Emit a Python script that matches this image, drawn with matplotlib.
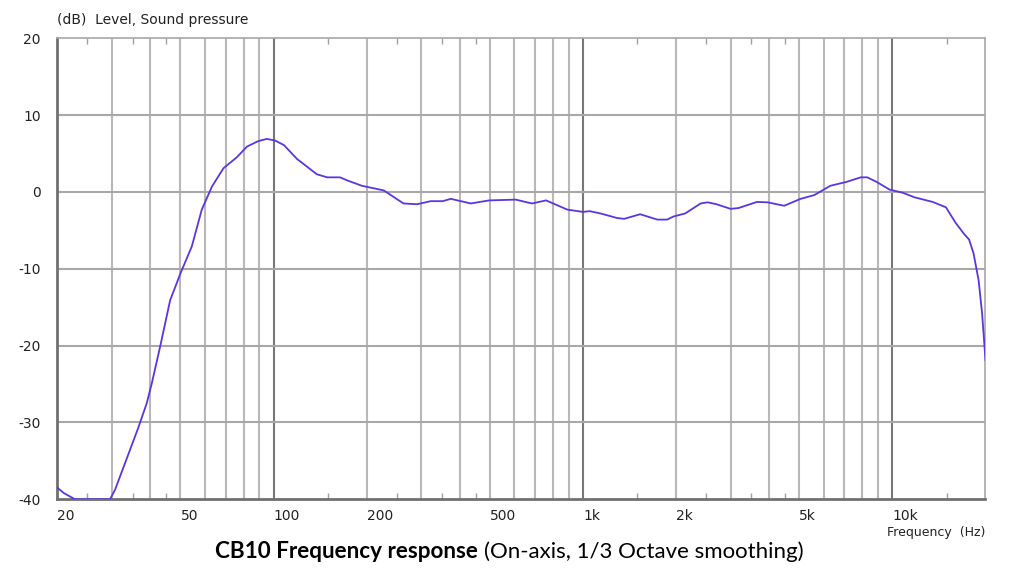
import matplotlib
matplotlib.use("Agg")
import matplotlib.pyplot as plt

plt.rcParams["axes.unicode_minus"] = False

# on-axis response (Hz, dB)
freq = [20, 21, 22.8, 26, 29.6, 30.7, 33.1, 36.6, 38.9, 40.4, 43, 46.3, 50, 54.4,
        58.6, 63.2, 68.9, 76, 82, 89, 95, 101, 108, 119, 138, 149, 164, 173, 193,
        227, 263, 291, 322, 352, 374, 434, 498, 606, 684, 760, 890, 1000, 1050,
        1140, 1290, 1360, 1530, 1740, 1870, 1960, 2140, 2400, 2530, 2700, 3000,
        3180, 3650, 3950, 4470, 5050, 5600, 6300, 7100, 7900, 8300, 8900, 9800,
        10800, 11800, 13500, 14900, 16000, 17000, 17700, 18300, 19000, 19500, 20000]
level = [-38.5, -39.2, -40, -40, -40, -38.8, -35.3, -30.6, -27.5, -24.9, -20.1, -14.1,
         -10.6, -7.1, -2.3, 0.7, 3.1, 4.5, 5.9, 6.6, 6.9, 6.7, 6.1, 4.3, 2.3, 1.9, 1.9,
         1.5, 0.8, 0.2, -1.5, -1.6, -1.2, -1.2, -0.9, -1.5, -1.1, -1.0, -1.5, -1.1,
         -2.3, -2.6, -2.5, -2.8, -3.4, -3.5, -2.9, -3.6, -3.6, -3.2, -2.8, -1.5, -1.35,
         -1.6, -2.2, -2.1, -1.3, -1.35, -1.8, -0.9, -0.4, 0.8, 1.3, 1.9, 1.9, 1.3, 0.3,
         -0.1, -0.7, -1.3, -2.0, -4.0, -5.4, -6.2, -8.0, -11.5, -15.8, -21.9]

xtick_vals = [20, 50, 100, 200, 500, 1000, 2000, 5000, 10000]
xtick_labels = ["20", "50", "100", "200", "500", "1k", "2k", "5k", "10k"]
ytick_vals = [20, 10, 0, -10, -20, -30, -40]

grid_light = [30, 40, 50, 60, 70, 80, 90,
              200, 300, 400, 500, 600, 700, 800, 900,
              2000, 3000, 4000, 5000, 6000, 7000, 8000, 9000]
grid_dark = [100, 1000, 10000]
minor_marks = [25, 35, 45, 150, 250, 350, 450, 1500, 2500, 3500, 4500, 15000]

fig = plt.figure(figsize=(10.24, 5.88), dpi=100)
ax = fig.add_axes([0.056, 0.1509, 0.9064, 0.784])

for f in grid_light:
    ax.axvline(f, color="#b8b8b8", lw=1.5, zorder=1)
for f in grid_dark:
    ax.axvline(f, color="#777777", lw=1.5, zorder=1)
for v in ytick_vals[1:-1]:
    ax.axhline(v, color="#a8a8a8", lw=1.5, zorder=1)

ax.semilogx(freq, level, color="#5a36e0", lw=1.3, zorder=3)

ax.set_xlim(20, 20000)
ax.set_ylim(-40, 20)

ax.set_xticks(xtick_vals)
ax.set_xticklabels(xtick_labels)
ax.set_xticks(minor_marks, minor=True)
ax.set_xticklabels([], minor=True)
ax.tick_params(axis="x", which="major", length=0, pad=7, labelsize=10, labelcolor="#222222")
ax.tick_params(axis="x", which="minor", direction="in", length=4, width=1,
               color="#a0a0a0", top=True, bottom=True)
for lab in ax.get_xticklabels():
    lab.set_horizontalalignment("left")

ax.set_yticks(ytick_vals)
ax.tick_params(axis="y", length=0, pad=12, labelsize=10, labelcolor="#222222")

for side in ["left", "bottom"]:
    ax.spines[side].set_color("#707070")
    ax.spines[side].set_linewidth(2)
for side in ["top", "right"]:
    ax.spines[side].set_color("#a8a8a8")
    ax.spines[side].set_linewidth(1.2)

fig.text(0.056, 0.966, "(dB)  Level, Sound pressure", fontsize=10, color="#222222",
         ha="left", va="center")
fig.text(0.9624, 0.095, "Frequency  (Hz)", fontsize=9, color="#222222",
         ha="right", va="center")

fig.text(478 / 1024, 0.062, "CB10 Frequency response", fontsize=16.2, fontweight="bold",
         family="Lato", ha="right", va="center", color="black")
fig.text(484 / 1024, 0.062, "(On-axis, 1/3 Octave smoothing)", fontsize=16,
         family="Lato", ha="left", va="center", color="black")

fig.savefig("out.png", dpi=100)
